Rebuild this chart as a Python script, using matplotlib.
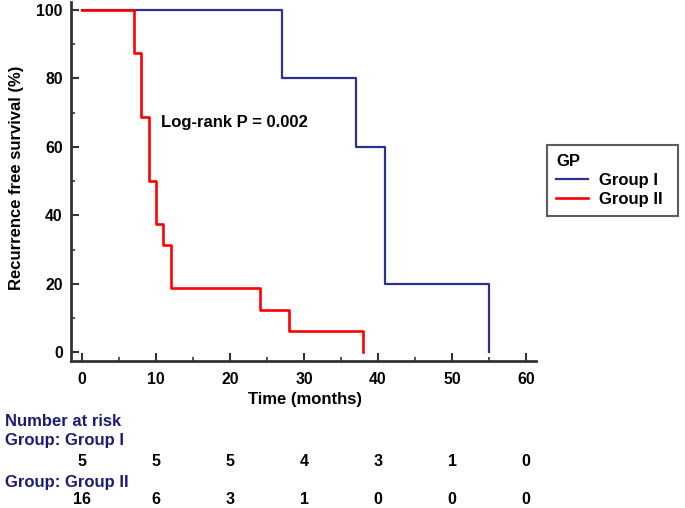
import matplotlib
matplotlib.use("Agg")
import matplotlib.pyplot as plt
import matplotlib.transforms as mtransforms

# Kaplan-Meier step data (time in months, survival in %)
g1_time = [0, 27, 37, 41, 55, 55]
g1_surv = [100, 80, 60, 20, 0, 0]
g2_time = [0, 7, 8, 9, 10, 11, 12, 24, 28, 38, 38]
g2_surv = [100, 87.5, 68.75, 50, 37.5, 31.25, 18.75, 12.5, 6.25, 0, 0]

risk_times = [0, 10, 20, 30, 40, 50, 60]
risk_g1 = [5, 5, 5, 4, 3, 1, 0]
risk_g2 = [16, 6, 3, 1, 0, 0, 0]

blue = "#2E3192"
red = "#FF0000"
navy = "#1C1C78"

plt.rcParams["font.family"] = ["Liberation Sans", "DejaVu Sans"]
plt.rcParams["font.weight"] = "bold"

fig = plt.figure(figsize=(6.85, 5.08), dpi=100)
W, H = 685, 508
ax = fig.add_axes([71 / W, (H - 361) / H, (536 - 71) / W, (361 - 2) / H])

ax.step(g1_time, g1_surv, where="post", color=blue, lw=1.6, label="Group I")
ax.step(g2_time, g2_surv, where="post", color=red, lw=1.9, label="Group II")

ax.set_xlim(-1.49, 61.35)
ax.set_ylim(-2.5, 102.3)
ax.set_xticks(range(0, 61, 10))
ax.set_xticks(range(5, 60, 10), minor=True)
ax.set_yticks(range(0, 101, 20))
ax.set_yticks(range(10, 100, 20), minor=True)
for s in ["top", "right"]:
    ax.spines[s].set_visible(False)
for s in ["left", "bottom"]:
    ax.spines[s].set_linewidth(2)
    ax.spines[s].set_color("#333333")
ax.tick_params(axis="both", which="major", direction="in", length=5.5, width=1.5,
               color="#333333", labelsize=11.3)
ax.tick_params(axis="both", which="minor", direction="in", length=3, width=1.2,
               color="#333333")
ax.tick_params(axis="x", pad=8)
ax.tick_params(axis="y", pad=6)
for lab in ax.get_xticklabels() + ax.get_yticklabels():
    lab.set_fontweight("bold")

ax.set_xlabel("Time (months)", fontsize=12, fontweight="bold")
ax.xaxis.set_label_coords((305 - 71) / 465, (361 - 392) / 359)
ax.set_ylabel("Recurrence free survival (%)", fontsize=12, fontweight="bold")
ax.yaxis.set_label_coords((24 - 71) / 465, (361 - 178) / 359)

ax.text(10.7, 67, "Log-rank P = 0.002", fontsize=12, fontweight="bold", va="center")

leg = ax.legend(title="GP", loc="upper left",
                bbox_to_anchor=(547 / W, (H - 217) / H, 131 / W, 72 / H),
                bbox_transform=fig.transFigure, mode="expand",
                fontsize=12, title_fontsize=12,
                frameon=True, fancybox=False, edgecolor="#333333",
                handlelength=1.9, handletextpad=0.65, borderpad=0.55,
                labelspacing=0.22, borderaxespad=0)
leg.get_frame().set_linewidth(1.5)
leg._legend_box.align = "left"
leg.get_title().set_fontweight("bold")
for t in leg.get_texts():
    t.set_fontweight("bold")

# Number at risk table
trans = mtransforms.blended_transform_factory(ax.transData, fig.transFigure)
fig.text(5 / W, 1 - 421 / H, "Number at risk", color=navy, fontsize=12,
         fontweight="bold", va="center")
fig.text(5 / W, 1 - 441 / H, "Group: Group I", color=navy, fontsize=12,
         fontweight="bold", va="center")
fig.text(5 / W, 1 - 482 / H, "Group: Group II", color=navy, fontsize=12,
         fontweight="bold", va="center")
for t, n in zip(risk_times, risk_g1):
    ax.text(t, 1 - 461 / H, str(n), transform=trans, ha="center", va="center",
            fontsize=11.5, fontweight="bold")
for t, n in zip(risk_times, risk_g2):
    ax.text(t, 1 - 500 / H, str(n), transform=trans, ha="center", va="center",
            fontsize=11.5, fontweight="bold")

fig.savefig("out.png", dpi=100)
